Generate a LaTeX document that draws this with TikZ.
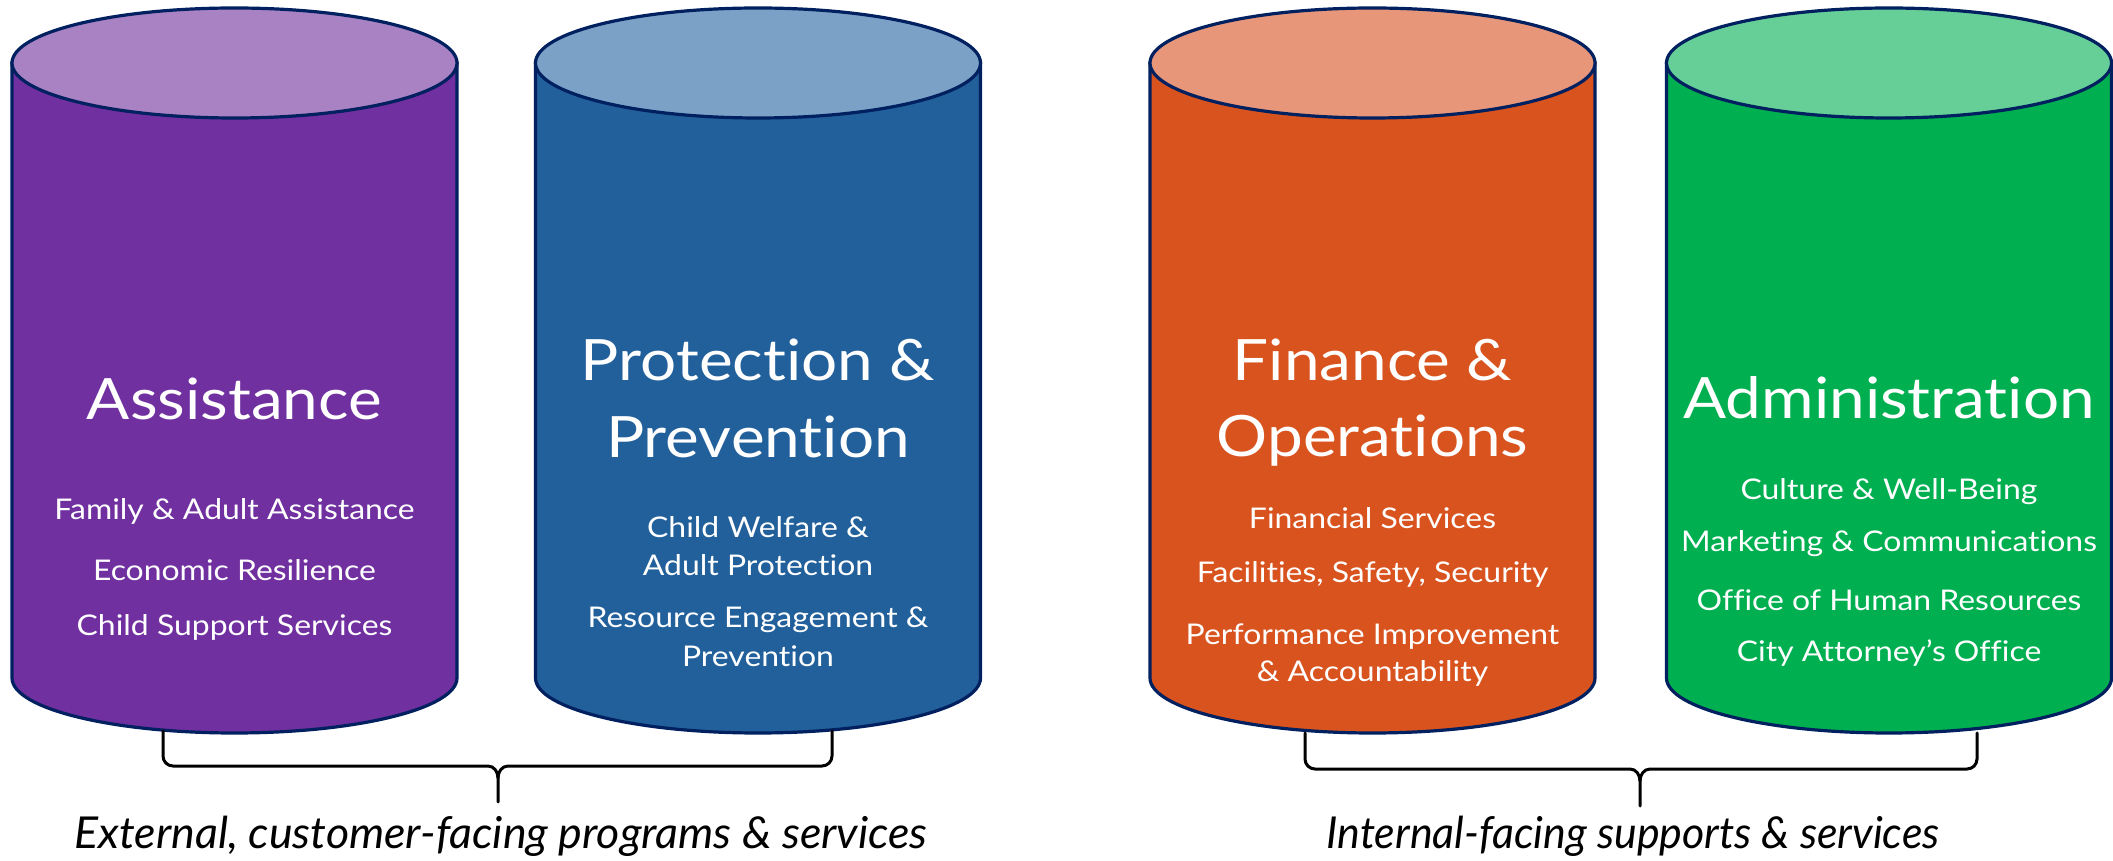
\documentclass[tikz,border=0pt]{standalone}
\usepackage{fontspec}
\usepackage{graphicx}
\setmainfont{Lato}[FakeStretch=1.12, Ligatures={NoCommon}]
\newfontfamily\capfont{Lato}[Ligatures={NoCommon}]
\definecolor{outl}{HTML}{002060}
\definecolor{purB}{HTML}{7030A0}
\definecolor{purT}{HTML}{A982C4}
\definecolor{bluB}{HTML}{22609B}
\definecolor{bluT}{HTML}{7BA1C6}
\definecolor{oraB}{HTML}{D9531F}
\definecolor{oraT}{HTML}{E8967A}
\definecolor{grnB}{HTML}{00AF50}
\definecolor{grnT}{HTML}{66CF98}
\newcommand\mycyl[3]{%
  \filldraw[cylline, fill=#2] ({#1-222.5},797) -- ({#1-222.5},182)
    arc[start angle=180,end angle=360,x radius=222.5,y radius=55] -- ({#1+222.5},797) -- cycle;
  \filldraw[cylline, fill=#3] (#1,797) ellipse[x radius=222.5, y radius=55];
}
\begin{document}
\begin{tikzpicture}[x=1pt,y=1pt,
  cylline/.style={draw=outl, line width=3.2pt},
  title/.style={text=white, anchor=base, inner sep=0pt, font=\fontsize{57}{57}\selectfont},
  item/.style={text=white, anchor=base, inner sep=0pt, font=\fontsize{28.5}{28.5}\selectfont},
  caption/.style={text=black, anchor=base, inner sep=0pt},
  bracket/.style={draw=black, line width=3pt, line cap=round}]
\useasboundingbox (0,0) rectangle (2113,860);

\mycyl{234.5}{purB}{purT}
\mycyl{758}{bluB}{bluT}
\mycyl{1372.5}{oraB}{oraT}
\mycyl{1889}{grnB}{grnT}

% Assistance
\node[title] (tA) at (234.5,440) {Assistance};
\node[item] (a1) at (234.5,340) {Family \& Adult Assistance};
\node[item] (a2) at (234.5,279) {Economic Resilience};
\node[item] (a3) at (234.5,224) {Child Support Services};

% Protection & Prevention
\node[title] (tP1) at (758,479) {Protection \&};
\node[title] (tP2) at (758,402) {Prevention};
\node[item] (p1) at (758,322) {Child Welfare \&};
\node[item] (p2) at (758,284) {Adult Protection};
\node[item] (p3) at (758,232) {Resource Engagement \&};
\node[item] (p4) at (758,193) {Prevention};

% Finance & Operations
\node[title] (tF1) at (1372.5,479) {Finance \&};
\node[title] (tF2) at (1372.5,403) {Operations};
\node[item] (f1) at (1372.5,331) {Financial Services};
\node[item] (f2) at (1372.5,277) {Facilities, Safety, Security};
\node[item] (f3) at (1372.5,215) {Performance Improvement};
\node[item] (f4) at (1372.5,178) {\& Accountability};

% Administration
\node[title] (tD) at (1889,441) {Administration};
\node[item] (d1) at (1889,360) {Culture \& Well-Being};
\node[item] (d2) at (1889,308) {Marketing \& Communications};
\node[item] (d3) at (1889,249) {Office of Human Resources};
\node[item] (d4) at (1889,198) {City Attorney’s Office};

% brackets
\coordinate (eL) at (163,129);
\coordinate (eR) at (832,129);
\coordinate (eT) at (498,58);
\coordinate (iL) at (1305,127);
\coordinate (iR) at (1977,127);
\coordinate (iT) at (1640,54);

\draw[bracket] (eL) -- ++(0,-25) to[out=-90,in=180] (173,94) -- (488,94) to[out=0,in=90] (498,82) -- (eT);
\draw[bracket] (eR) -- ++(0,-25) to[out=-90,in=0] (822,94) -- (508,94) to[out=180,in=90] (498,82);
\draw[bracket] (iL) -- ++(0,-26) to[out=-90,in=180] (1315,91) -- (1630,91) to[out=0,in=90] (1640,79) -- (iT);
\draw[bracket] (iR) -- ++(0,-26) to[out=-90,in=0] (1967,91) -- (1650,91) to[out=180,in=90] (1640,79);

\node[caption] (capE) at (501,12) {\resizebox{853pt}{\height}{\capfont\itshape\fontsize{44}{44}\selectfont External, customer-facing programs \& services}};
\node[caption] (capI) at (1633,12) {\resizebox{613pt}{\height}{\capfont\itshape\fontsize{44}{44}\selectfont Internal-facing supports \& services}};
\end{tikzpicture}
\end{document}
